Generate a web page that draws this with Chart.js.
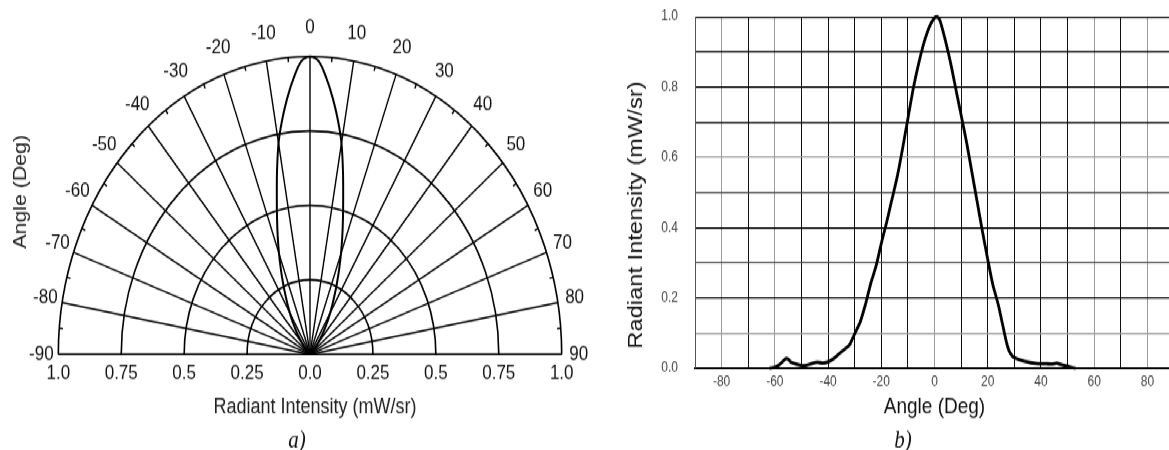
<!DOCTYPE html>
<html>
<head>
<meta charset="utf-8">
<title>LED radiation pattern</title>
<script src="https://cdn.jsdelivr.net/npm/chart.js@4.4.1/dist/chart.umd.min.js"></script>
<style>
  html { overflow: hidden; background: #fff; }
  body { margin: 0; padding: 0; width: 1169px; height: 450px; background: #fff; }
  /* Both panels are laid out on a 380 px tall stage and shown 450 px tall. */
  #stage { position: relative; width: 1169px; height: 380px; overflow: hidden;
           transform: scaleY(1.18421); transform-origin: 0 0; }
  #polar { position: absolute; left: 0; top: 0; }
  #cart  { position: absolute; left: 600px; top: 0; }
</style>
</head>
<body>
<div id="stage">
  <canvas id="polar" width="600" height="380"></canvas>
  <canvas id="cart" width="574" height="380"></canvas>
</div>
<script>
const SANS = "'Liberation Sans', Arial, Helvetica, sans-serif";
const SERIF = "'Liberation Serif', 'Times New Roman', serif";

// ---- Panel a: polar radiation pattern ----
const angleA = [-60, -50, -45, -40, -36, -33, -30, -28, -26, -24, -22, -20, -18, -16, -14, -12, -10, -8, -6, -4, -2,
                0, 2, 4, 6, 8, 10, 12, 14, 16, 18, 20, 22, 24, 26, 28, 30, 33, 36, 40, 45, 50, 60];
const intensityA = [0, 0.01, 0.025, 0.05, 0.085, 0.12, 0.16, 0.19, 0.225, 0.265, 0.31, 0.36, 0.415, 0.475, 0.545, 0.63, 0.72, 0.795, 0.865, 0.93, 0.985,
                    1.0, 0.985, 0.93, 0.865, 0.795, 0.72, 0.63, 0.545, 0.475, 0.415, 0.36, 0.31, 0.265, 0.225, 0.19, 0.16, 0.12, 0.085, 0.05, 0.025, 0.01, 0];
const ringValues = [0.25, 0.5, 0.75, 1.0];
const spokeAngles = [-80, -70, -60, -50, -40, -30, -20, -10, 0, 10, 20, 30, 40, 50, 60, 70, 80];
const minorTickAngles = [-85, -75, -65, -55, -45, -35, -25, -15, -5, 5, 15, 25, 35, 45, 55, 65, 75, 85];
const angleTickValues = [-90, -80, -70, -60, -50, -40, -30, -20, -10, 0, 10, 20, 30, 40, 50, 60, 70, 80, 90];
const angleTickLabels = ['-90', '-80', '-70', '-60', '-50', '-40', '-30', '-20', '-10', '0',
                         '10', '20', '30', '40', '50', '60', '70', '80', '90'];
const radialTickValues = [-1, -0.75, -0.5, -0.25, 0, 0.25, 0.5, 0.75, 1];
const radialTickLabels = ['1.0', '0.75', '0.5', '0.25', '0.0', '0.25', '0.5', '0.75', '1.0'];

// ---- Panel b: intensity versus angle ----
const angleB = [-62, -60, -58, -56, -55, -54, -52, -50, -48, -46, -44, -42, -40, -38, -36, -34, -32, -30, -28, -26,
                -24, -22, -20, -18, -16, -14, -12, -10, -8, -6, -4, -2, 0, 1, 2, 4, 6, 8, 10, 12, 14, 16, 18, 20,
                22, 24, 26, 27, 28, 29, 30, 32, 34, 36, 38, 40, 42, 44, 46, 47, 48, 50, 52, 53];
const intensityB = [0, 0.003, 0.012, 0.027, 0.026, 0.018, 0.012, 0.008, 0.009, 0.014, 0.017, 0.015, 0.018, 0.027, 0.04, 0.053, 0.066, 0.098, 0.13, 0.18,
                    0.24, 0.29, 0.355, 0.415, 0.48, 0.545, 0.625, 0.71, 0.795, 0.865, 0.925, 0.97, 0.997, 1.0, 0.99, 0.935, 0.87, 0.795, 0.72, 0.645, 0.56, 0.475, 0.39, 0.31,
                    0.235, 0.18, 0.11, 0.075, 0.05, 0.037, 0.03, 0.024, 0.02, 0.016, 0.014, 0.013, 0.013, 0.012, 0.015, 0.012, 0.01, 0.006, 0.001, 0];
const xTickValuesB = [-80, -60, -40, -20, 0, 20, 40, 60, 80];
const xTickLabelsB = ['-80', '-60', '-40', '-20', '0', '20', '40', '60', '80'];
const yTickValuesB = [0, 0.2, 0.4, 0.6, 0.8, 1.0];
const yTickLabelsB = ['0.0', '0.2', '0.4', '0.6', '0.8', '1.0'];

const rad = d => d * Math.PI / 180;

// Free-standing texts (axis names, panel letters)
const captions = {
  id: 'captions',
  afterDraw(chart, args, opts) {
    const ctx = chart.ctx;
    (opts.items || []).forEach(it => {
      ctx.save();
      ctx.translate(it.x, it.y);
      ctx.rotate(rad(it.rotation || 0));
      ctx.font = it.font;
      ctx.fillStyle = it.color || '#111';
      ctx.textAlign = 'center';
      ctx.textBaseline = 'middle';
      ctx.fillText(it.text, 0, 0);
      ctx.restore();
    });
  }
};

// Polar grid: rings, spokes, rim ticks and labels, positioned through the x/y scales
const polarGrid = {
  id: 'polarGrid',
  beforeDatasetsDraw(chart) {
    const { ctx, scales: { x, y } } = chart;
    const cx = x.getPixelForValue(0), cy = y.getPixelForValue(0);
    const px = (r, a) => x.getPixelForValue(r * Math.sin(rad(a)));
    const py = (r, a) => y.getPixelForValue(r * Math.cos(rad(a)));
    ctx.save();
    ctx.strokeStyle = '#000';
    ctx.lineWidth = 1.6;
    ringValues.forEach(r => {
      ctx.beginPath();
      ctx.ellipse(cx, cy, x.getPixelForValue(r) - cx, cy - y.getPixelForValue(r), 0, Math.PI, 2 * Math.PI);
      ctx.stroke();
    });
    ctx.beginPath();
    ctx.moveTo(px(1, -90), cy);
    ctx.lineTo(px(1, 90), cy);
    ctx.stroke();
    ctx.lineWidth = 1.4;
    spokeAngles.forEach(a => {
      ctx.beginPath();
      ctx.moveTo(cx, cy);
      ctx.lineTo(px(1, a), py(1, a));
      ctx.stroke();
    });
    minorTickAngles.forEach(a => {
      ctx.beginPath();
      ctx.moveTo(px(1, a), py(1, a));
      ctx.lineTo(px(0.985, a), py(0.985, a));
      ctx.stroke();
    });
    ctx.fillStyle = '#111';
    ctx.font = `17px ${SANS}`;
    ctx.textAlign = 'center';
    ctx.textBaseline = 'middle';
    const rimX = x.getPixelForValue(1) - cx, rimY = cy - y.getPixelForValue(1);
    angleTickValues.forEach((a, i) => {
      const lx = cx + (rimX + 17) * Math.sin(rad(a));
      const ly = cy - (rimY + 24) * Math.cos(rad(a));
      ctx.fillText(angleTickLabels[i], lx, ly);
    });
    radialTickValues.forEach((v, i) => {
      ctx.fillText(radialTickLabels[i], x.getPixelForValue(v), cy + 16.6);
    });
    ctx.restore();
  }
};

new Chart(document.getElementById('polar'), {
  type: 'scatter',
  data: {
    datasets: [{
      data: angleA.map((a, i) => ({ x: intensityA[i] * Math.sin(rad(a)), y: intensityA[i] * Math.cos(rad(a)) })),
      showLine: true,
      borderColor: '#000',
      borderWidth: 2,
      pointRadius: 0,
      tension: 0.3,
      clip: 6
    }]
  },
  options: {
    responsive: false,
    animation: false,
    events: [],
    layout: { padding: { left: 58.3, right: 38.3, top: 47.7, bottom: 80.8 } },
    scales: {
      x: { type: 'linear', min: -1, max: 1, display: false },
      y: { type: 'linear', min: 0, max: 1, display: false }
    },
    plugins: {
      legend: { display: false },
      tooltip: { enabled: false },
      captions: {
        items: [
          { text: 'Radiant Intensity (mW/sr)', x: 315, y: 343.7, font: `18px ${SANS}`, color: '#222' },
          { text: 'Angle (Deg)', x: 21, y: 161.9, rotation: -90, font: `18px ${SANS}`, color: '#222' },
          { text: 'a)', x: 297, y: 372.4, font: `italic 21px ${SERIF}`, color: '#111' }
        ]
      }
    }
  },
  plugins: [polarGrid, captions]
});

const lightX = [-80, -60, 0, 60, 80];
const lightY = [0.1, 0.6];
const midY = [0.3, 0.5];
const near = (a, b) => Math.abs(a - b) < 1e-6;

new Chart(document.getElementById('cart'), {
  type: 'scatter',
  data: {
    datasets: [{
      data: angleB.map((a, i) => ({ x: a, y: intensityB[i] })),
      showLine: true,
      borderColor: '#000',
      borderWidth: 2.8,
      pointRadius: 0,
      tension: 0.2,
      clip: 6
    }]
  },
  options: {
    responsive: false,
    animation: false,
    events: [],
    layout: { padding: { left: 0, right: 0, top: 14.1, bottom: 24.6 } },
    scales: {
      x: {
        type: 'linear', min: -90, max: 90,
        afterFit: s => { s.height = 44.4; },
        ticks: {
          stepSize: 10, autoSkip: false, maxRotation: 0, padding: 0,
          color: '#444', font: { size: 12, family: SANS },
          callback: v => { const i = xTickValuesB.findIndex(t => near(t, v)); return i < 0 ? '' : xTickLabelsB[i]; }
        },
        grid: {
          drawTicks: true, tickLength: 4.4, tickColor: 'rgba(0,0,0,0)', lineWidth: 1,
          color: c => lightX.some(t => near(t, c.tick.value)) ? '#9c9c9c' : '#111'
        },
        border: { display: true, color: '#000', width: 2 },
        title: { display: true, text: 'Angle (Deg)', color: '#111', font: { size: 19, family: SANS }, padding: 0 }
      },
      y: {
        type: 'linear', min: 0, max: 1,
        afterFit: s => { s.width = 95; },
        ticks: {
          stepSize: 0.1, autoSkip: false, padding: 0,
          color: '#444', font: { size: 12, family: SANS },
          callback: v => { const i = yTickValuesB.findIndex(t => near(t, v)); return i < 0 ? '' : yTickLabelsB[i]; }
        },
        grid: {
          drawTicks: true, tickLength: 17, tickColor: 'rgba(0,0,0,0)', lineWidth: 1.2,
          color: c => lightY.some(t => near(t, c.tick.value)) ? '#9c9c9c'
                    : midY.some(t => near(t, c.tick.value)) ? '#4a4a4a' : '#000'
        },
        border: { display: true, color: '#555', width: 1 }
      }
    },
    plugins: {
      legend: { display: false },
      tooltip: { enabled: false },
      captions: {
        items: [
          { text: 'Radiant Intensity (mW/sr)', x: 36.7, y: 181.6, rotation: -90, font: `20px ${SANS}`, color: '#111' },
          { text: 'b)', x: 303, y: 372.4, font: `italic 21px ${SERIF}`, color: '#111' }
        ]
      }
    }
  },
  plugins: [captions]
});
</script>
</body>
</html>
